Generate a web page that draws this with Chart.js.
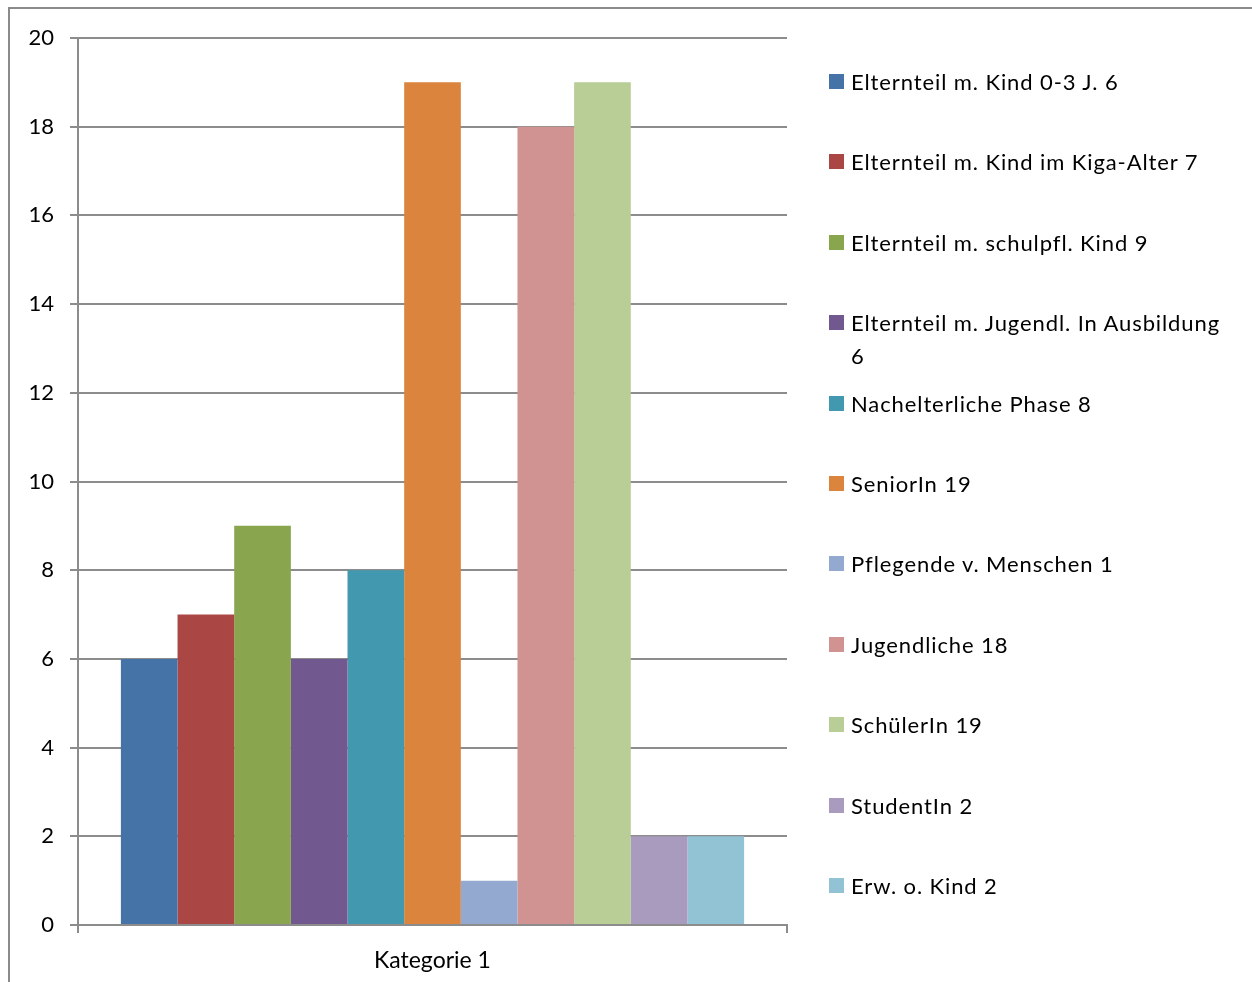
<!DOCTYPE html>
<html>
<head>
<meta charset="utf-8">
<script src="https://cdn.jsdelivr.net/npm/chart.js@4"></script>
<style>
  html, body { margin:0; padding:0; background:#fff; overflow:hidden; }
  #wrap { position:relative; width:1252px; height:982px; }
  #frame { position:absolute; left:8px; top:7px; width:2000px; height:2000px; border:2px solid #8a8a8a; box-sizing:border-box; }
  #chart { position:absolute; left:0; top:0; }
  #legend { position:absolute; left:0; top:0; font-family:Lato, 'Open Sans', sans-serif; font-size:22px; letter-spacing:0.9px; color:#000; }
  .lg-item { position:absolute; left:829px; width:410px; line-height:33px; }
  .lg-box { position:absolute; left:0; top:9px; width:15px; height:15px; }
  .lg-text { position:absolute; left:22px; width:380px; }
</style>
</head>
<body>
<div id="wrap">
  <div id="frame"></div>
  <canvas id="chart" width="1252" height="982"></canvas>
  <div id="legend"></div>
</div>
<script>
// ── Data ───────────────────────────────────────
const categories = ['Kategorie 1'];
const seriesNames = [
  'Elternteil m. Kind 0-3 J. 6',
  'Elternteil m. Kind im Kiga-Alter 7',
  'Elternteil m. schulpfl. Kind 9',
  'Elternteil m. Jugendl. In Ausbildung 6',
  'Nachelterliche Phase 8',
  'SeniorIn 19',
  'Pflegende v. Menschen 1',
  'Jugendliche 18',
  'SchülerIn 19',
  'StudentIn 2',
  'Erw. o. Kind 2'
];
const seriesValues = [6, 7, 9, 6, 8, 19, 1, 18, 19, 2, 2];
const seriesColors = ['#4572A7','#AA4643','#89A54E','#71588F','#4198AF','#DB843D','#93A9CF','#D19392','#B9CD96','#A99BBD','#92C3D5'];
const yTicks = [0, 2, 4, 6, 8, 10, 12, 14, 16, 18, 20];

const FONT = { family: "Lato, 'Open Sans', sans-serif", size: 22 };
const GRID = '#8c8c8c';

// ── Chart ──────────────────────────────────────
new Chart(document.getElementById('chart'), {
  type: 'bar',
  data: {
    labels: categories,
    datasets: seriesNames.map((name, i) => ({
      label: name,
      data: [seriesValues[i]],
      backgroundColor: seriesColors[i],
      borderWidth: 0,
      barPercentage: 1,
      categoryPercentage: 0.879,
    }))
  },
  options: {
    responsive: false,
    animation: false,
    layout: { padding: { left: 0, right: 465, top: 38, bottom: 0 } },
    plugins: { legend: { display: false }, tooltip: { enabled: false } },
    scales: {
      x: {
        offset: true,
        grid: { offset: true, drawOnChartArea: false, drawTicks: true, tickLength: 8, color: GRID, lineWidth: 2 },
        border: { color: GRID, width: 2 },
        ticks: { color: '#000', font: { family: FONT.family, size: 23 }, padding: 14 },
        afterFit: s => { s.height = 57; }
      },
      y: {
        min: 0, max: 20,
        afterBuildTicks: s => { s.ticks = yTicks.map(v => ({ value: v })); },
        grid: { color: GRID, lineWidth: 2, tickLength: 8 },
        border: { color: GRID, width: 2 },
        ticks: { color: '#000', font: FONT, padding: 16 },
        afterFit: s => { s.width = 78; }
      }
    }
  }
});

// ── Legend ─────────────────────────────────────
const legend = document.getElementById('legend');
legend.innerHTML = seriesNames.map((name, i) => `
  <div class="lg-item" style="top:${Math.round(65 + i * 80.4)}px">
    <span class="lg-box" style="background:${seriesColors[i]}"></span>
    <span class="lg-text">${name}</span>
  </div>`).join('');
</script>
</body>
</html>
